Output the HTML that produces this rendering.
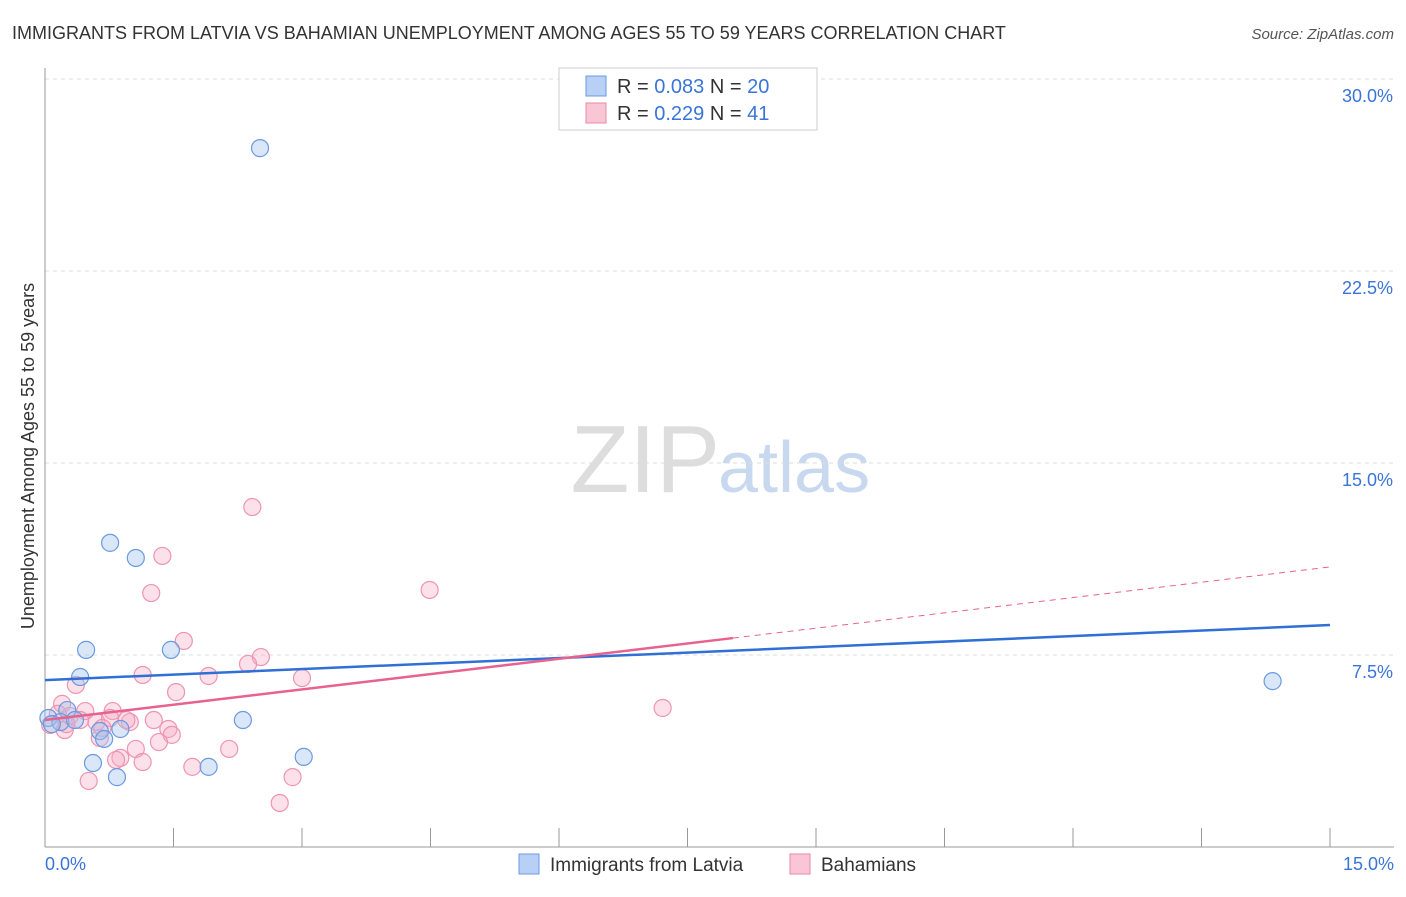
<!DOCTYPE html>
<html><head><meta charset="utf-8"><style>
body{margin:0;background:#fff;font-family:"Liberation Sans",sans-serif;}
svg text{font-family:"Liberation Sans",sans-serif;}
</style></head><body>
<svg id="chart" width="1406" height="892">
<text x="12" y="39" font-size="18" fill="#333">IMMIGRANTS FROM LATVIA VS BAHAMIAN UNEMPLOYMENT AMONG AGES 55 TO 59 YEARS CORRELATION CHART</text>
<text x="1394" y="39" font-size="15" fill="#555" font-style="italic" text-anchor="end">Source: ZipAtlas.com</text>
<text x="0" y="0" transform="translate(34,456) rotate(-90)" font-size="18" fill="#333" text-anchor="middle">Unemployment Among Ages 55 to 59 years</text>
<text x="720" y="492" font-size="96" fill="#ddd" text-anchor="end" font-family="Liberation Serif">ZIP</text>
<text x="718" y="492" font-size="72" fill="#c8d8ef">atlas</text>
<g id="grid"></g><g id="axes"></g><g id="marks"></g><g id="lines"></g>
<g>
<rect x="559" y="68" width="258" height="62" fill="#fff" stroke="#ccc"/>
<rect x="586" y="76" width="20" height="20" fill="#b8d0f5" stroke="#6a9ae0"/>
<text x="617" y="93" font-size="20" fill="#333">R = <tspan fill="#3a74d8">0.083</tspan>    N = <tspan fill="#3a74d8">20</tspan></text>
<rect x="586" y="103" width="20" height="20" fill="#f9c6d6" stroke="#e88aa8"/>
<text x="617" y="120" font-size="20" fill="#333">R =  <tspan fill="#3a74d8">0.229</tspan>    N =  <tspan fill="#3a74d8">41</tspan></text>
</g>
<g>
<rect x="519" y="854" width="20" height="20" fill="#b8d0f5" stroke="#6a9ae0"/>
<text x="550" y="871" font-size="19" fill="#333">Immigrants from Latvia</text>
<rect x="790" y="854" width="20" height="20" fill="#f9c6d6" stroke="#e88aa8"/>
<text x="821" y="871" font-size="19" fill="#333">Bahamians</text>
</g>
</svg>
<script>
const yTicks=[7.5,15,22.5,30];
const yTickLabels=["7.5%","15.0%","22.5%","30.0%"];
const xTicks=[0,1.5,3,4.5,6,7.5,9,10.5,12,13.5,15];
const latviaX=[2.51,0.76,1.06,0.48,1.47,0.41,14.33,0.04,0.26,2.31,0.18,0.64,0.88,0.69,3.02,0.56,1.91,0.84,0.08,0.35];
const latviaY=[27.3,11.88,11.29,7.70,7.70,6.64,6.48,5.04,5.35,4.96,4.88,4.53,4.61,4.22,3.52,3.28,3.13,2.73,4.80,4.96];
const bahX=[2.42,1.37,1.24,4.49,1.62,2.52,2.37,1.14,1.91,3.00,1.53,0.36,7.21,0.20,0.47,0.79,1.27,0.99,0.60,0.06,0.23,1.44,1.48,0.64,1.33,2.15,1.06,0.88,0.83,1.14,1.72,2.89,0.51,2.74,0.29,0.15,0.41,0.76,0.95,0.25,0.67];
const bahY=[13.28,11.37,9.92,10.04,8.05,7.42,7.15,6.72,6.68,6.60,6.05,6.33,5.43,5.59,5.31,5.31,4.96,4.88,4.88,4.77,4.57,4.61,4.38,4.26,4.10,3.83,3.83,3.48,3.40,3.32,3.13,2.73,2.58,1.72,5.12,5.2,4.96,5.04,4.96,4.8,4.65];
const latviaTrend=[6.52,8.67];
const bahTrend=[4.96,10.94];
const bahSolidEnd=8.03;
const X=v=>45+v*(1285/15), Y=v=>847-v*(192/7.5);
const NS="http://www.w3.org/2000/svg";
function mk(tag,attrs,parent){const e=document.createElementNS(NS,tag);for(const k in attrs)e.setAttribute(k,attrs[k]);document.getElementById(parent).appendChild(e);return e;}
yTicks.forEach((t,i)=>{
 const l=mk('line',{x1:45,x2:1394,y1:Y(t),y2:Y(t),stroke:'#ddd','stroke-dasharray':'4,4'},'grid');
 
 
 const tx=mk('text',{x:1393,y:Y(t)+23,'font-size':18,fill:'#3a74d8','text-anchor':'end'},'grid');
 tx.textContent=yTickLabels[i];
 
 
});
const ax=mk('line',{x1:45,x2:45,y1:68,y2:847,stroke:'#999'},'axes');


const bx=mk('line',{x1:45,x2:1394,y1:847,y2:847,stroke:'#999'},'axes');


xTicks.forEach(t=>{
 const l=mk('line',{x1:X(t),x2:X(t),y1:828,y2:847,stroke:'#999'},'axes');
 
 
});
[[0,"0.0%",45,'start'],[15,"15.0%",1394,'end']].forEach(a=>{
 const tx=mk('text',{x:a[2],y:870,'font-size':18,fill:'#3a74d8','text-anchor':a[3]},'axes');
 tx.textContent=a[1];
 
 
});
bahX.forEach((x,i)=>{
 const c=mk('circle',{cx:X(x),cy:Y(bahY[i]),r:8.5,fill:'rgba(246,170,195,0.35)',stroke:'#ee94b2','stroke-width':1.2},'marks');
 
 
});
latviaX.forEach((x,i)=>{
 const c=mk('circle',{cx:X(x),cy:Y(latviaY[i]),r:8.5,fill:'rgba(160,195,240,0.4)',stroke:'#6a9ae0','stroke-width':1.2},'marks');
 
 
});
const bl=mk('line',{x1:X(0),y1:Y(latviaTrend[0]),x2:X(15),y2:Y(latviaTrend[1]),stroke:'#2f6fd6','stroke-width':2.5},'lines');


const pm=v=>bahTrend[0]+(bahTrend[1]-bahTrend[0])*v/15;
const pl=mk('line',{x1:X(0),y1:Y(bahTrend[0]),x2:X(bahSolidEnd),y2:Y(pm(bahSolidEnd)),stroke:'#e8628e','stroke-width':2.5},'lines');


const pd=mk('line',{x1:X(bahSolidEnd),y1:Y(pm(bahSolidEnd)),x2:X(15),y2:Y(bahTrend[1]),stroke:'#e8628e','stroke-width':1,'stroke-dasharray':'6,5'},'lines');


</script>
</body></html>
